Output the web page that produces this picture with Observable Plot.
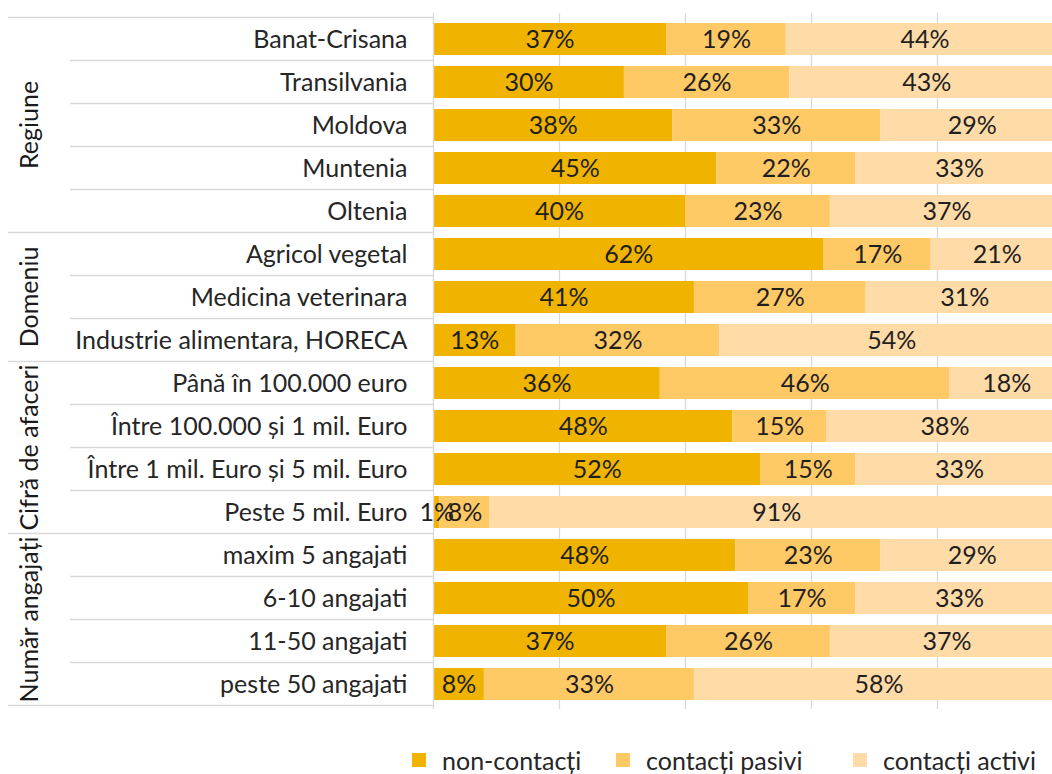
<!DOCTYPE html>
<html>
<head>
<meta charset="utf-8">
<script src="https://cdn.jsdelivr.net/npm/d3@7"></script>
<script src="https://cdn.jsdelivr.net/npm/@observablehq/plot@0.6"></script>
<style>
  body { margin: 0; background: #fff; font-family: Lato, "Open Sans", sans-serif; }
  #legend { position: relative; height: 44px; margin-top: 8px; font-size: 25px; color: #262626; }
  .item { position: absolute; top: 0; height: 44px; display: flex; align-items: center; }
  .sw { width: 14px; height: 14px; margin-right: 16px; }
</style>
</head>
<body>
<div id="chart"></div>
<script>
const categories = [
  "Banat-Crisana", "Transilvania", "Moldova", "Muntenia", "Oltenia",
  "Agricol vegetal", "Medicina veterinara", "Industrie alimentara, HORECA",
  "Până în 100.000 euro", "Între 100.000 și 1 mil. Euro", "Între 1 mil. Euro și 5 mil. Euro", "Peste 5 mil. Euro",
  "maxim 5 angajati", "6-10 angajati", "11-50 angajati", "peste 50 angajati"
];
const groupNames = ["Regiune", "Domeniu", "Cifră de afaceri", "Număr angajați"];
const groupSizes = [5, 3, 4, 4];
const series = ["non-contacți", "contacți pasivi", "contacți activi"];
const nonContacti = [37, 30, 38, 45, 40, 62, 41, 13, 36, 48, 52, 1, 48, 50, 37, 8];
const contactiPasivi = [19, 26, 33, 22, 23, 17, 27, 32, 46, 15, 15, 8, 23, 17, 26, 33];
const contactiActivi = [44, 43, 29, 33, 37, 21, 31, 54, 18, 38, 33, 91, 29, 33, 37, 58];
const colors = ["#F0B400", "#FFC966", "#FFDBA8"];
const legendLeft = [412, 616, 853];

const seriesValues = [nonContacti, contactiPasivi, contactiActivi];
const data = categories.flatMap((cat, i) =>
  series.map((s, j) => ({cat, series: s, value: seriesValues[j][i]}))
);

const FONT = 25;
const LINE = "#d9d9d9";

function groupMark(index, scales, values, dims) {
  const ns = "http://www.w3.org/2000/svg";
  const g = document.createElementNS(ns, "g");
  const y = scales.y;
  const step = y.step ? y.step() : (dims.height - dims.marginTop - dims.marginBottom) / categories.length;
  const bw = y.bandwidth ? y.bandwidth() : step * 0.74;
  const top = c => y(c) - (step - bw) / 2;
  const x2 = dims.marginLeft;
  const line = (x1, yy) => {
    const l = document.createElementNS(ns, "line");
    l.setAttribute("x1", x1); l.setAttribute("x2", x2);
    l.setAttribute("y1", yy); l.setAttribute("y2", yy);
    l.setAttribute("stroke", LINE); l.setAttribute("stroke-width", 1.3);
    g.appendChild(l);
  };
  let start = 0;
  groupSizes.forEach((n, gi) => {
    const y0 = top(categories[start]);
    const y1 = top(categories[start + n - 1]) + step;
    line(8, y0);
    for (let k = 1; k < n; k++) line(70, top(categories[start + k]));
    if (gi === groupSizes.length - 1) line(8, y1);
    const t = document.createElementNS(ns, "text");
    t.setAttribute("transform", `translate(28,${(y0 + y1) / 2}) rotate(-90)`);
    t.setAttribute("text-anchor", "middle");
    t.setAttribute("dominant-baseline", "central");
    t.setAttribute("font-size", FONT);
    t.setAttribute("fill", "#1a1a1a");
    t.textContent = groupNames[gi];
    g.appendChild(t);
    start += n;
  });
  return g;
}

const chart = Plot.plot({
  width: 1052,
  height: 730,
  marginLeft: 433,
  marginRight: -11,
  marginTop: 13,
  marginBottom: 21,
  style: {fontFamily: "Lato, 'Open Sans', sans-serif", fontSize: FONT + "px", color: "#262626", overflow: "hidden", background: "#fff"},
  x: {domain: [0, 1], axis: null},
  y: {domain: categories, paddingInner: 0.26, paddingOuter: 0.13, axis: null},
  color: {domain: series, range: colors},
  marks: [
    Plot.ruleX([0.2, 0.4, 0.6, 0.8, 1], {stroke: LINE, strokeWidth: 1.3}),
    Plot.barX(data, Plot.stackX({x: "value", y: "cat", fill: "series", order: series, offset: "normalize"})),
    Plot.text(data, Plot.stackX({x: "value", y: "cat", z: "series", order: series, offset: "normalize",
      text: d => d.value + "%", fill: "#1f1f1f", fontSize: FONT})),
    Plot.ruleX([0], {stroke: LINE, strokeWidth: 1.3}),
    Plot.axisY({tickSize: 0, tickPadding: 26, fontSize: FONT, label: null, color: "#262626"}),
    groupMark
  ]
});
document.getElementById("chart").appendChild(chart);

const legend = document.createElement("div");
legend.id = "legend";
series.forEach((s, i) => {
  const item = document.createElement("div");
  item.className = "item";
  item.style.left = legendLeft[i] + "px";
  const sw = document.createElement("div");
  sw.className = "sw";
  sw.style.background = colors[i];
  const lab = document.createElement("span");
  lab.textContent = s;
  item.appendChild(sw); item.appendChild(lab);
  legend.appendChild(item);
});
document.body.appendChild(legend);
</script>
</body>
</html>
